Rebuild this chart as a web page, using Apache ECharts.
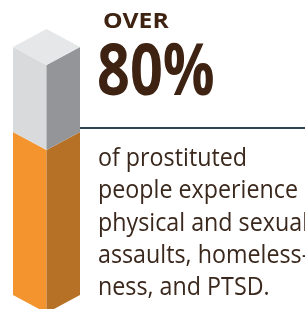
<!DOCTYPE html>
<html><head><meta charset="utf-8">
<script src="https://cdn.jsdelivr.net/npm/echarts@6/dist/echarts.min.js"></script>
<style>html,body{margin:0;padding:0;background:#fff}#c{width:305px;height:309px}</style>
</head><body><div id="c"></div>
<script>
var categories = ['prostituted people'];
var percentValue = [80];
var totalValue = [100];
var headlineTop = 'OVER';
var headlineBig = '80%';
var bodyLines = ['of prostituted', 'people experience', 'physical and sexual', 'assaults, homeless-', 'ness, and PTSD.'];

var chart = echarts.init(document.getElementById('c'), null, {renderer: 'canvas'});
var axisMin = 41.6;
var segData = [];
categories.forEach(function (c, i) {
  segData.push({value: [i, axisMin, percentValue[i], 0]});
  segData.push({value: [i, percentValue[i], totalValue[i], 1]});
});
var faceColors = [
  {left: '#F4942F', right: '#B77127', top: '#F7A550'},
  {left: '#D9DADC', right: '#939598', top: '#E6E7E8'}
];
function renderItem(params, api) {
  var cat = api.value(0);
  var x = api.coord([cat, 0])[0];
  var hw = api.size([1, 0])[0] / 2;
  var yLo = api.coord([cat, api.value(1)])[1];
  var yHi = api.coord([cat, api.value(2)])[1];
  var d = 18;
  var fc = faceColors[api.value(3)];
  var children = [
    {type: 'polygon', shape: {points: [[x - hw, yLo], [x, yLo + d], [x, yHi + d], [x - hw, yHi]]}, style: {fill: fc.left}},
    {type: 'polygon', shape: {points: [[x, yLo + d], [x + hw, yLo], [x + hw, yHi], [x, yHi + d]]}, style: {fill: fc.right}}
  ];
  if (api.value(3) === 1) {
    children.push({type: 'polygon', shape: {points: [[x - hw, yHi], [x, yHi - d], [x + hw, yHi], [x, yHi + d]]}, style: {fill: fc.top}});
  }
  return {type: 'group', children: children};
}
chart.setOption({
  animation: false,
  grid: {left: 13, width: 67, top: 47, height: 248},
  xAxis: {type: 'category', data: categories, show: false},
  yAxis: {type: 'value', min: axisMin, max: 100, show: false},
  series: [{type: 'custom', renderItem: renderItem, data: segData, clip: false}],
  graphic: [
    {type: 'line', shape: {x1: 80, y1: 128, x2: 305, y2: 128}, style: {stroke: '#2F4751', lineWidth: 2}},
    {type: 'text', x: 103, y: 10.5, scaleX: 1.12, style: {text: headlineTop, font: 'bold 22px "Open Sans"', fill: '#3E2212', verticalAlign: 'top'}},
    {type: 'text', x: 97, y: 38.5, scaleX: 0.8, style: {text: headlineBig, font: 'bold 72px "Open Sans"', fill: '#3E2212', verticalAlign: 'top'}},
    {type: 'text', x: 98, y: 142.5, scaleX: 0.895, style: {text: bodyLines.join('\n'), font: '26px "Open Sans"', lineHeight: 32.25, fill: '#3B281D', verticalAlign: 'top'}}
  ]
});
</script></body></html>
